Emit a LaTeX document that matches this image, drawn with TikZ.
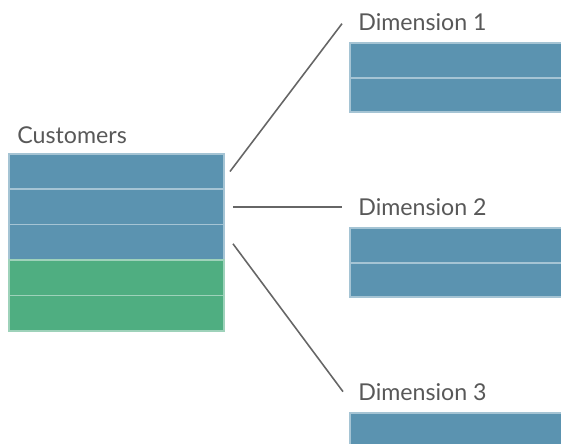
\documentclass[tikz,border=0pt]{standalone}
\usepackage{fontspec}
\setmainfont{Lato}
\usetikzlibrary{positioning,calc}
\definecolor{rowblue}{HTML}{5B93B0}
\definecolor{rowgreen}{HTML}{4FAE81}
\definecolor{txtgray}{HTML}{585858}
\definecolor{linkgray}{HTML}{666666}

\begin{document}
\begin{tikzpicture}[x=0.02cm, y=-0.02cm,
    bluerow/.style={draw=white!45!rowblue, line width=0.9pt, fill=rowblue, minimum width=4.3cm, minimum height=0.708cm, inner sep=0pt, outer sep=0pt},
    greenrow/.style={bluerow, draw=white!45!rowgreen, fill=rowgreen},
    dimrow/.style={bluerow, minimum width=4.6cm, minimum height=0.69cm},
    lbl/.style={anchor=base west, inner sep=0pt, text=txtgray, font=\fontsize{13.2}{15}\selectfont},
    link/.style={draw=linkgray, line width=0.9pt}
]
\clip (0,0) rectangle (561,443);

% customers table
\node[lbl] (custlbl) at (17,143) {Customers};
\node[bluerow] (cust1) at (116.5,171.5) {};
\node[bluerow, below=0pt of cust1] (cust2) {};
\node[bluerow, below=0pt of cust2] (cust3) {};
\node[greenrow, below=0pt of cust3] (cust4) {};
\node[greenrow, below=0pt of cust4] (cust5) {};

% dimension tables
\node[lbl] (dim1) at (358,30) {Dimension 1};
\node[dimrow] (dim1a) at (465,60.5) {};
\node[dimrow, below=0pt of dim1a] (dim1b) {};

\node[lbl] (dim2) at (358,215) {Dimension 2};
\node[dimrow] (dim2a) at (465,245.5) {};
\node[dimrow, below=0pt of dim2a] (dim2b) {};

\node[lbl] (dim3) at (358,400) {Dimension 3};
\node[dimrow] (dim3a) at (465,430.5) {};

% links
\draw[link] ([shift={(6,0)}]cust1.east) -- ([shift={(-16,2)}]dim1.west);
\draw[link] ([shift={(9,0)}]cust2.east) -- ([xshift=-0.32cm]dim2.west |- cust2.east);
\draw[link] ([shift={(9,1.5)}]cust3.east) -- ([shift={(-15,0)}]dim3.west);
\end{tikzpicture}
\end{document}
